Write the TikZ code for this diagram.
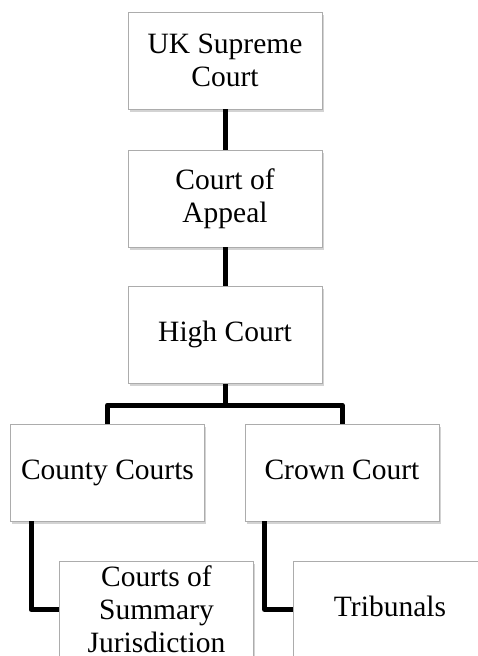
\documentclass[tikz,border=0pt]{standalone}
\usepackage{fontspec}
\setmainfont{Liberation Serif}
\usetikzlibrary{shadows,calc}

\begin{document}
\begin{tikzpicture}[x=1pt, y=-1pt,
    court/.style={draw=gray!65, line width=0.9pt, fill=white,
        minimum width=194pt, minimum height=97pt, inner sep=0pt,
        align=center, font=\fontsize{29.5}{33}\selectfont,
        drop shadow={shadow xshift=1.5pt, shadow yshift=-2.5pt, opacity=0.35}},
    link/.style={line width=5pt, black, line join=round}]

    \useasboundingbox (0,0) rectangle (478,656);
    \clip (0,0) rectangle (478,656);

    % courts
    \node[court] (sc) at (225,60.5) {UK Supreme\\Court};
    \node[court] (ca) at (225,198.5) {Court of\\Appeal};
    \node[court] (hc) at (225,335) {High Court\strut};
    \node[court] (cc) at (107.5,472.5) {County Courts\strut};
    \node[court] (crc) at (342,472.5) {Crown Court\strut};
    \node[court] (csj) at (156.5,609.5) {Courts of\\Summary\\Jurisdiction};
    \node[court] (trib) at (390,609.5) {Tribunals\strut};

    \coordinate (split) at (225,405);

    % links
    \draw[link] (sc.south) -- (ca.north);
    \draw[link] (ca.south) -- (hc.north);
    \draw[link] (hc.south) -- (split) -| (cc.north);
    \draw[link] (split) -| (crc.north);
    \draw[link] ([xshift=21pt]cc.south west) |- (csj.west);
    \draw[link] ([xshift=20pt]crc.south west) |- (trib.west);
\end{tikzpicture}
\end{document}
